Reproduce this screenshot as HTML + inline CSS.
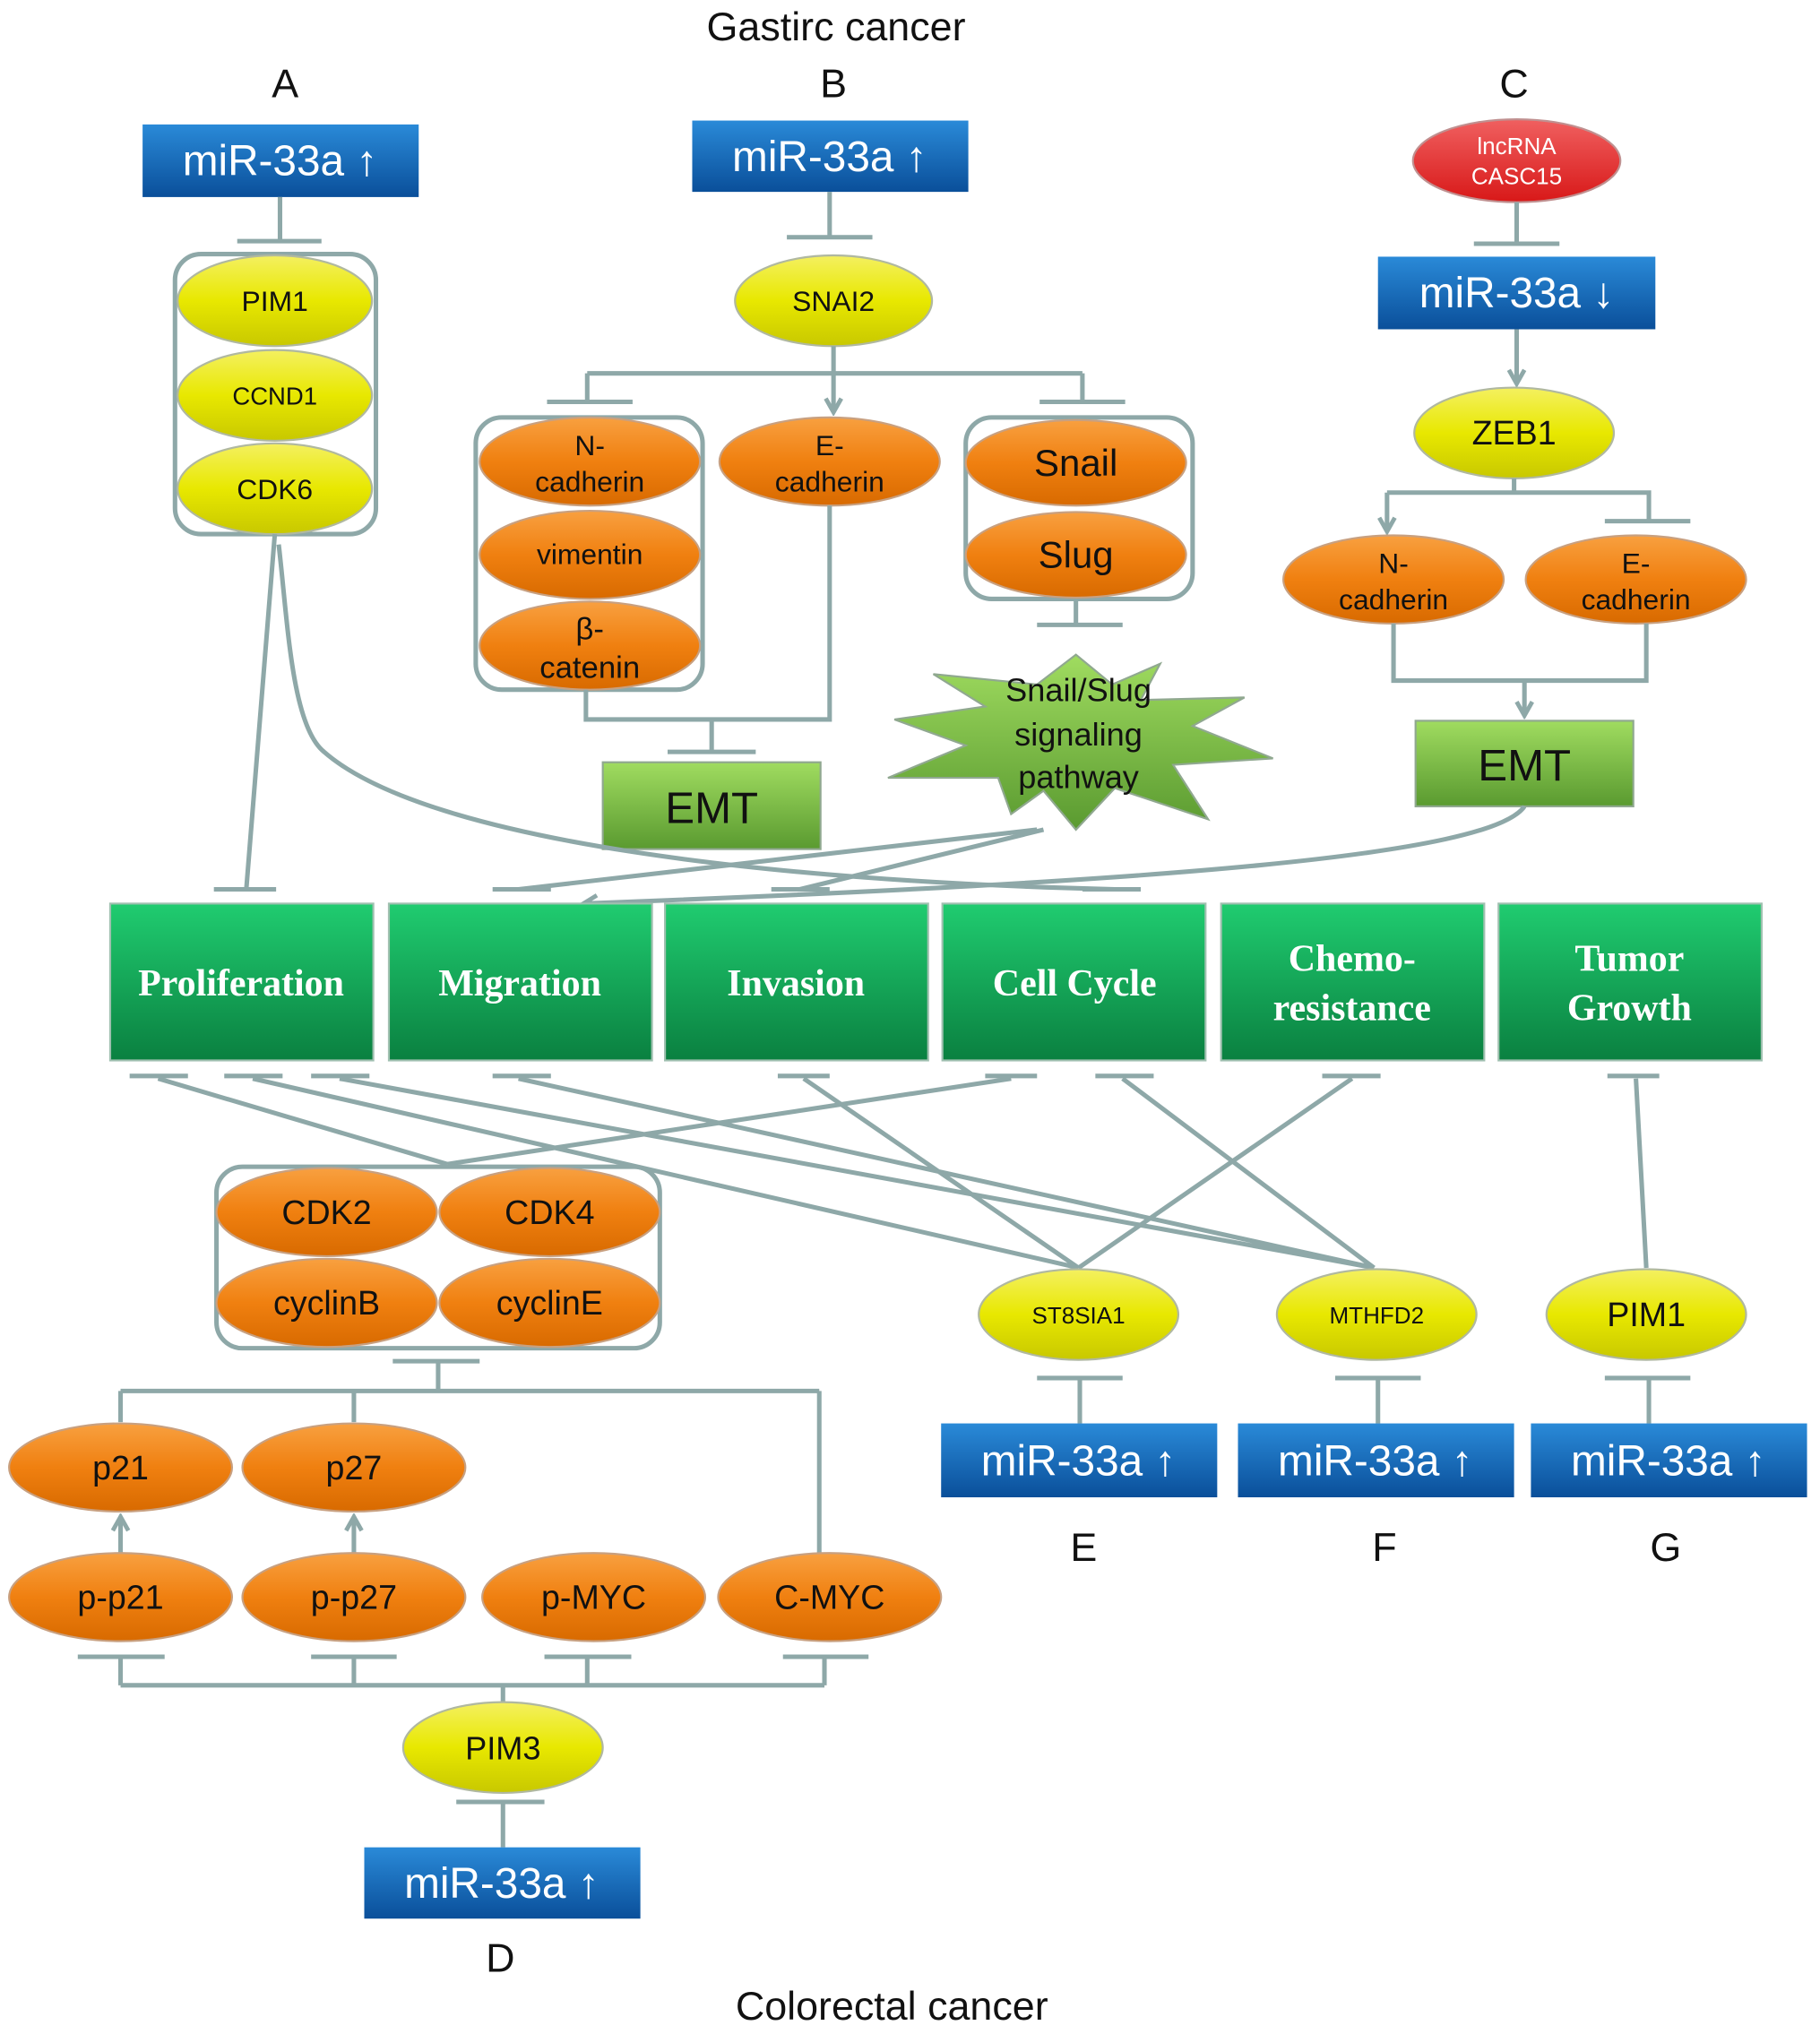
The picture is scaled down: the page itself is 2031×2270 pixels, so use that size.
<!DOCTYPE html>
<html><head><meta charset="utf-8"><style>
html,body{margin:0;padding:0;background:#fff;}
svg{display:block;}
text{font-family:"Liberation Sans",sans-serif;}
.ser{font-family:"Liberation Serif",serif;font-weight:bold;fill:#fff;font-size:29px;}
.ln{stroke:#8ea8a8;stroke-width:3.5;fill:none;}
.grp{stroke:#8ea8a8;stroke-width:3.5;fill:none;}
.ye{fill:url(#gy);stroke:#b0b8a0;stroke-width:1.5;}
.or{fill:url(#go);stroke:#c8a080;stroke-width:1.5;}
.bl{fill:url(#gb);}
.gr{fill:url(#gg);stroke:#a0c0b0;stroke-width:1.5;}
.em{fill:url(#ge);stroke:#90a890;stroke-width:1.5;}
.wt{fill:#fff;font-size:33px;}
.k{fill:#111;}
</style></head><body>
<svg width="2031" height="2270" viewBox="0 0 1404 1569" preserveAspectRatio="none" xmlns="http://www.w3.org/2000/svg">
<defs>
<linearGradient id="gy" x1="0" y1="0" x2="0" y2="1"><stop offset="0" stop-color="#f4f060"/><stop offset="0.5" stop-color="#e8e800"/><stop offset="1" stop-color="#c8c800"/></linearGradient>
<linearGradient id="go" x1="0" y1="0" x2="0" y2="1"><stop offset="0" stop-color="#f8a040"/><stop offset="0.5" stop-color="#f08010"/><stop offset="1" stop-color="#d86a00"/></linearGradient>
<linearGradient id="gb" x1="0" y1="0" x2="0" y2="1"><stop offset="0" stop-color="#2a8ad8"/><stop offset="1" stop-color="#0a4f9a"/></linearGradient>
<linearGradient id="gg" x1="0" y1="0" x2="0" y2="1"><stop offset="0" stop-color="#20cc70"/><stop offset="1" stop-color="#0a8040"/></linearGradient>
<linearGradient id="ge" x1="0" y1="0" x2="0" y2="1"><stop offset="0" stop-color="#a0dc60"/><stop offset="1" stop-color="#5a9a30"/></linearGradient>
<linearGradient id="gr" x1="0" y1="0" x2="0" y2="1"><stop offset="0" stop-color="#f06060"/><stop offset="1" stop-color="#d81818"/></linearGradient>
<marker id="ar" viewBox="0 0 12 12" refX="10" refY="6" markerWidth="16" markerHeight="16" orient="auto" markerUnits="userSpaceOnUse"><path d="M2,1.5 L10,6 L2,10.5" stroke="#8ea8a8" stroke-width="2.5" fill="none"/></marker>
</defs>

<text x="645" y="31" font-size="31" text-anchor="middle" class="k">Gastirc cancer</text>
<text x="220" y="75" font-size="31" text-anchor="middle" class="k">A</text>
<text x="643" y="75" font-size="31" text-anchor="middle" class="k">B</text>
<text x="1168" y="75" font-size="31" text-anchor="middle" class="k">C</text>

<!-- A -->
<rect x="110" y="96" width="213" height="56" class="bl"/>
<text x="216" y="135" text-anchor="middle" class="wt">miR-33a ↑</text>
<path class="ln" d="M216,152 V186 M183,186 H248"/>
<rect x="135" y="196" width="155" height="216" rx="20" class="grp"/>
<ellipse cx="212" cy="232" rx="75" ry="35" class="ye"/><text x="212" y="240" font-size="22" text-anchor="middle" class="k">PIM1</text>
<ellipse cx="212" cy="305" rx="75" ry="35" class="ye"/><text x="212" y="312" font-size="19" text-anchor="middle" class="k">CCND1</text>
<ellipse cx="212" cy="377" rx="75" ry="35" class="ye"/><text x="212" y="385" font-size="22" text-anchor="middle" class="k">CDK6</text>

<!-- B -->
<rect x="534" y="93" width="213" height="55" class="bl"/>
<text x="640" y="132" text-anchor="middle" class="wt">miR-33a ↑</text>
<path class="ln" d="M640,148 V183 M607,183 H673"/>
<ellipse cx="643" cy="232" rx="76" ry="35" class="ye"/><text x="643" y="240" font-size="22" text-anchor="middle" class="k">SNAI2</text>
<path class="ln" d="M643,267 V288 M453,288 H835 M453,288 V310 M422,310 H488 M835,288 V310 M802,310 H868"/>
<path class="ln" d="M643,288 V318" marker-end="url(#ar)"/>
<rect x="367" y="322" width="175" height="210" rx="20" class="grp"/>
<ellipse cx="455" cy="356" rx="85" ry="34" class="or"/><text x="455" y="351" font-size="22" text-anchor="middle" class="k">N-</text><text x="455" y="379" font-size="22" text-anchor="middle" class="k">cadherin</text>
<ellipse cx="455" cy="428" rx="85" ry="34" class="or"/><text x="455" y="435" font-size="22" text-anchor="middle" class="k">vimentin</text>
<ellipse cx="455" cy="498" rx="85" ry="34" class="or"/><text x="455" y="493" font-size="24" text-anchor="middle" class="k">β-</text><text x="455" y="523" font-size="24" text-anchor="middle" class="k">catenin</text>
<ellipse cx="640" cy="356" rx="85" ry="34" class="or"/><text x="640" y="351" font-size="22" text-anchor="middle" class="k">E-</text><text x="640" y="379" font-size="22" text-anchor="middle" class="k">cadherin</text>
<rect x="745" y="322" width="175" height="140" rx="20" class="grp"/>
<ellipse cx="830" cy="357" rx="85" ry="33" class="or"/><text x="830" y="367" font-size="29" text-anchor="middle" class="k">Snail</text>
<ellipse cx="830" cy="428" rx="85" ry="33" class="or"/><text x="830" y="438" font-size="29" text-anchor="middle" class="k">Slug</text>
<path class="ln" d="M830,462 V482 M800,482 H866"/>
<path class="ln" d="M452,532 V555 H640 V390 M549,555 V580 M515,580 H583"/>
<rect x="465" y="588" width="168" height="67" class="em"/>
<text x="549" y="635" font-size="34" text-anchor="middle" class="k">EMT</text>

<!-- starburst -->
<polygon points="982,585 905,590 932,632 860,608 830,640 805,610 780,628 770,600 685,600 745,575 690,555 760,545 720,520 800,528 830,505 858,528 895,512 880,540 960,538 920,560" fill="url(#ge)" stroke="#90a890" stroke-width="1.5"/>
<text x="832" y="541" font-size="25" text-anchor="middle" class="k">Snail/Slug</text>
<text x="832" y="575" font-size="25" text-anchor="middle" class="k">signaling</text>
<text x="832" y="608" font-size="25" text-anchor="middle" class="k">pathway</text>

<!-- C -->
<ellipse cx="1170" cy="124" rx="80" ry="32" fill="url(#gr)" stroke="#c09090" stroke-width="1.5"/>
<text x="1170" y="119" font-size="18" text-anchor="middle" fill="#fff">lncRNA</text>
<text x="1170" y="142" font-size="18" text-anchor="middle" fill="#fff">CASC15</text>
<path class="ln" d="M1170,156 V188 M1137,188 H1203"/>
<rect x="1063" y="198" width="214" height="56" class="bl"/>
<text x="1170" y="237" text-anchor="middle" class="wt">miR-33a ↓</text>
<path class="ln" d="M1170,254 V296" marker-end="url(#ar)"/>
<ellipse cx="1168" cy="334" rx="77" ry="35" class="ye"/><text x="1168" y="343" font-size="26" text-anchor="middle" class="k">ZEB1</text>
<path class="ln" d="M1168,369 V380 M1070,380 H1272 V402 M1238,402 H1304"/>
<path class="ln" d="M1070,380 V410" marker-end="url(#ar)"/>
<ellipse cx="1075" cy="447" rx="85" ry="34" class="or"/><text x="1075" y="442" font-size="22" text-anchor="middle" class="k">N-</text><text x="1075" y="470" font-size="22" text-anchor="middle" class="k">cadherin</text>
<ellipse cx="1262" cy="447" rx="85" ry="34" class="or"/><text x="1262" y="442" font-size="22" text-anchor="middle" class="k">E-</text><text x="1262" y="470" font-size="22" text-anchor="middle" class="k">cadherin</text>
<path class="ln" d="M1075,481 V525 H1270 V481"/>
<path class="ln" d="M1176,525 V552" marker-end="url(#ar)"/>
<rect x="1092" y="556" width="168" height="66" class="em"/>
<text x="1176" y="602" font-size="34" text-anchor="middle" class="k">EMT</text>

<!-- connectors to phenotype boxes -->
<path class="ln" d="M212,412 L190,686 M165,686 H213"/>
<path class="ln" d="M215,420 C222,480 225,560 250,580 C330,650 600,680 860,686 M835,686 H880"/>
<path class="ln" d="M800,640 L400,686 M380,686 H425"/>
<path class="ln" d="M805,640 L617,686 M595,686 H640"/>
<path class="ln" d="M1176,622 C1150,660 900,680 450,697" marker-end="url(#ar)"/>

<!-- phenotype boxes -->
<rect x="85" y="697" width="203" height="121" class="gr"/><text x="186" y="768" text-anchor="middle" class="ser">Proliferation</text>
<rect x="300" y="697" width="203" height="121" class="gr"/><text x="401" y="768" text-anchor="middle" class="ser">Migration</text>
<rect x="513" y="697" width="203" height="121" class="gr"/><text x="614" y="768" text-anchor="middle" class="ser">Invasion</text>
<rect x="727" y="697" width="203" height="121" class="gr"/><text x="829" y="768" text-anchor="middle" class="ser">Cell Cycle</text>
<rect x="942" y="697" width="203" height="121" class="gr"/><text x="1043" y="749" text-anchor="middle" class="ser">Chemo-</text><text x="1043" y="787" text-anchor="middle" class="ser">resistance</text>
<rect x="1156" y="697" width="203" height="121" class="gr"/><text x="1257" y="749" text-anchor="middle" class="ser">Tumor</text><text x="1257" y="787" text-anchor="middle" class="ser">Growth</text>

<!-- lower connectors -->
<path class="ln" d="M100,830 H145 M173,830 H218 M240,830 H285 M380,830 H425 M600,830 H640 M760,830 H800 M845,830 H890 M1020,830 H1065 M1240,830 H1280"/>
<path class="ln" d="M122,832 L345,898 M195,832 L832,978 M262,832 L1060,978 M400,832 L1060,978 M620,832 L832,978 M780,832 L345,898 M866,832 L1060,978 M1043,832 L832,978 M1262,832 L1270,978"/>

<!-- D -->
<rect x="167" y="900" width="342" height="140" rx="20" class="grp"/>
<ellipse cx="252" cy="935" rx="85" ry="34" class="or"/><text x="252" y="944" font-size="26" text-anchor="middle" class="k">CDK2</text>
<ellipse cx="424" cy="935" rx="85" ry="34" class="or"/><text x="424" y="944" font-size="26" text-anchor="middle" class="k">CDK4</text>
<ellipse cx="252" cy="1005" rx="85" ry="34" class="or"/><text x="252" y="1014" font-size="26" text-anchor="middle" class="k">cyclinB</text>
<ellipse cx="424" cy="1005" rx="85" ry="34" class="or"/><text x="424" y="1014" font-size="26" text-anchor="middle" class="k">cyclinE</text>
<path class="ln" d="M303,1050 H370 M338,1050 V1073 M93,1073 H632 M93,1073 V1097 M273,1073 V1097 M632,1073 V1198"/>
<ellipse cx="93" cy="1132" rx="86" ry="34" class="or"/><text x="93" y="1141" font-size="26" text-anchor="middle" class="k">p21</text>
<ellipse cx="273" cy="1132" rx="86" ry="34" class="or"/><text x="273" y="1141" font-size="26" text-anchor="middle" class="k">p27</text>
<path class="ln" d="M93,1198 V1170" marker-end="url(#ar)"/>
<path class="ln" d="M273,1198 V1170" marker-end="url(#ar)"/>
<ellipse cx="93" cy="1232" rx="86" ry="34" class="or"/><text x="93" y="1241" font-size="26" text-anchor="middle" class="k">p-p21</text>
<ellipse cx="273" cy="1232" rx="86" ry="34" class="or"/><text x="273" y="1241" font-size="26" text-anchor="middle" class="k">p-p27</text>
<ellipse cx="458" cy="1232" rx="86" ry="34" class="or"/><text x="458" y="1241" font-size="26" text-anchor="middle" class="k">p-MYC</text>
<ellipse cx="640" cy="1232" rx="86" ry="34" class="or"/><text x="640" y="1241" font-size="26" text-anchor="middle" class="k">C-MYC</text>
<path class="ln" d="M60,1278 H127 M240,1278 H306 M420,1278 H487 M604,1278 H670 M93,1278 V1300 M273,1278 V1300 M453,1278 V1300 M636,1278 V1300 M93,1300 H636 M388,1300 V1313"/>
<ellipse cx="388" cy="1348" rx="77" ry="35" class="ye"/><text x="388" y="1357" font-size="25" text-anchor="middle" class="k">PIM3</text>
<path class="ln" d="M352,1390 H420 M388,1390 V1425"/>
<rect x="281" y="1425" width="213" height="55" class="bl"/>
<text x="387" y="1464" text-anchor="middle" class="wt">miR-33a ↑</text>
<text x="386" y="1521" font-size="31" text-anchor="middle" class="k">D</text>
<text x="688" y="1558" font-size="31" text-anchor="middle" class="k">Colorectal cancer</text>

<!-- E F G -->
<ellipse cx="832" cy="1014" rx="77" ry="35" class="ye"/><text x="832" y="1021" font-size="18" text-anchor="middle" class="k">ST8SIA1</text>
<ellipse cx="1062" cy="1014" rx="77" ry="35" class="ye"/><text x="1062" y="1021" font-size="18" text-anchor="middle" class="k">MTHFD2</text>
<ellipse cx="1270" cy="1014" rx="77" ry="35" class="ye"/><text x="1270" y="1023" font-size="26" text-anchor="middle" class="k">PIM1</text>
<path class="ln" d="M800,1063 H866 M833,1063 V1098 M1030,1063 H1096 M1063,1063 V1098 M1238,1063 H1304 M1272,1063 V1098"/>
<rect x="726" y="1098" width="213" height="57" class="bl"/><text x="832" y="1138" text-anchor="middle" class="wt">miR-33a ↑</text>
<rect x="955" y="1098" width="213" height="57" class="bl"/><text x="1061" y="1138" text-anchor="middle" class="wt">miR-33a ↑</text>
<rect x="1181" y="1098" width="213" height="57" class="bl"/><text x="1287" y="1138" text-anchor="middle" class="wt">miR-33a ↑</text>
<text x="836" y="1204" font-size="31" text-anchor="middle" class="k">E</text>
<text x="1068" y="1204" font-size="31" text-anchor="middle" class="k">F</text>
<text x="1285" y="1204" font-size="31" text-anchor="middle" class="k">G</text>
</svg>
</body></html>
